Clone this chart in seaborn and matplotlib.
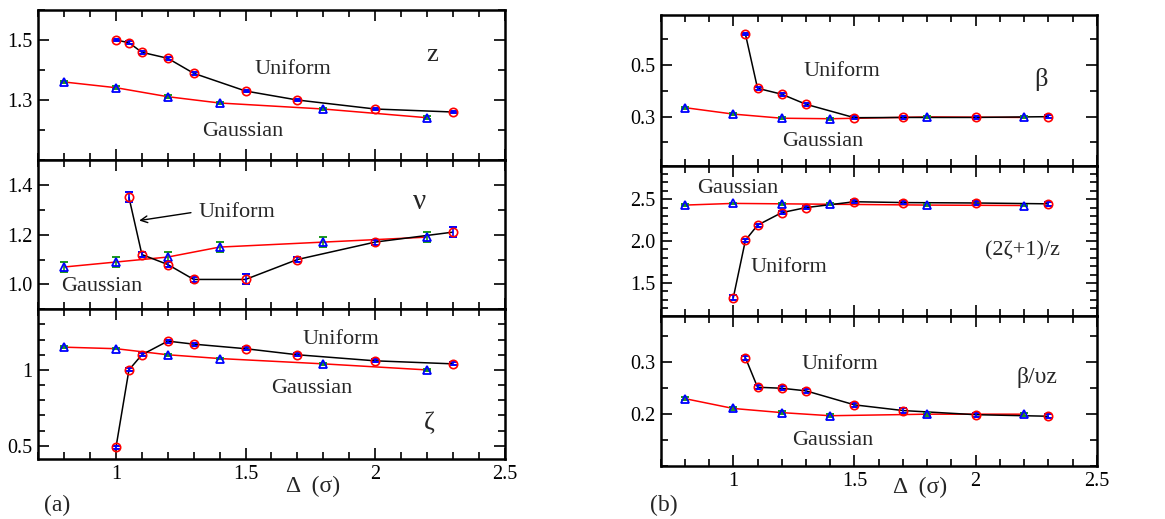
import matplotlib
matplotlib.use("Agg")
import matplotlib.pyplot as plt
import seaborn as sns
import numpy as np
from matplotlib.ticker import MultipleLocator, FixedLocator, FixedFormatter

# ---- data -------------------------------------------------------------
x_uni = [1.0, 1.05, 1.1, 1.2, 1.3, 1.5, 1.7, 2.0, 2.3]
x_uni_nu = [1.05, 1.1, 1.2, 1.3, 1.5, 1.7, 2.0, 2.3]
x_gau = [0.8, 1.0, 1.2, 1.4, 1.8, 2.2]

# dynamic exponent z
z_uni = [1.500, 1.491, 1.459, 1.439, 1.389, 1.330, 1.300, 1.270, 1.260]
z_uni_err = [0.005] * 9
z_gau = [1.360, 1.341, 1.311, 1.290, 1.270, 1.241]
z_gau_err = [0.005] * 6

# correlation exponent nu
nu_uni = [1.35, 1.12, 1.08, 1.02, 1.02, 1.10, 1.17, 1.21]
nu_uni_err = [0.02, 0.01, 0.01, 0.01, 0.02, 0.01, 0.01, 0.02]
nu_gau = [1.07, 1.09, 1.11, 1.15, 1.17, 1.19]
nu_gau_err = [0.02, 0.02, 0.02, 0.02, 0.02, 0.02]

# roughness exponent zeta
zeta_uni = [0.49, 1.00, 1.10, 1.19, 1.17, 1.14, 1.10, 1.06, 1.04]
zeta_uni_err = [0.01] * 9
zeta_gau = [1.15, 1.14, 1.10, 1.075, 1.04, 1.00]
zeta_gau_err = [0.005] * 6

# velocity exponent beta
beta_uni = [0.62, 0.41, 0.387, 0.348, 0.296, 0.297, 0.297, 0.300]
beta_uni_err = [0.005] * 8
beta_gau = [0.335, 0.310, 0.294, 0.292, 0.299, 0.297]
beta_gau_err = [0.004] * 6
x_uni_b = [1.05, 1.1, 1.2, 1.3, 1.5, 1.7, 2.0, 2.3]

# scaling relation (2 zeta + 1)/z
sr_uni = [1.325, 2.01, 2.19, 2.34, 2.40, 2.47, 2.46, 2.455, 2.445]
sr_uni_err = [0.03, 0.02, 0.02, 0.02, 0.02, 0.02, 0.02, 0.02, 0.02]
sr_gau = [2.43, 2.45, 2.445, 2.44, 2.43, 2.425]
sr_gau_err = [0.01] * 6

# scaling relation beta/(nu z)
bnz_uni = [0.309, 0.252, 0.250, 0.245, 0.218, 0.207, 0.199, 0.196]
bnz_uni_err = [0.004] * 8
bnz_gau = [0.230, 0.211, 0.203, 0.197, 0.200, 0.200]
bnz_gau_err = [0.003] * 6

xtick_vals = [1, 1.5, 2, 2.5]
xtick_labels = ["1", "1.5", "2", "2.5"]

# ---- style -------------------------------------------------------------
sns.set_theme(style="ticks")
plt.rcParams["font.family"] = ["Liberation Serif", "DejaVu Serif"]
plt.rcParams["mathtext.fontset"] = "stix"

fig = plt.figure(figsize=(11.65, 5.19), dpi=100)

W, H = 1165.0, 519.0


def make_ax(left, right, top, bottom):
    return fig.add_axes([left / W, 1 - bottom / H, (right - left) / W, (bottom - top) / H])


def style_ax(ax, ylim, yticks, ylabels, yminor, show_x):
    ax.set_xlim(0.7, 2.5)
    ax.set_ylim(*ylim)
    ax.xaxis.set_major_locator(FixedLocator(xtick_vals))
    ax.xaxis.set_minor_locator(MultipleLocator(0.1))
    ax.yaxis.set_major_locator(FixedLocator(yticks))
    ax.yaxis.set_major_formatter(FixedFormatter(ylabels))
    ax.yaxis.set_minor_locator(MultipleLocator(yminor))
    if show_x:
        ax.set_xticklabels(xtick_labels)
    else:
        ax.set_xticklabels([])
    ax.tick_params(which="both", direction="in", top=True, right=True,
                   colors="black", width=1.2, labelsize=14.5, pad=4)
    ax.tick_params(which="major", length=8)
    ax.tick_params(which="minor", length=5)
    for s in ax.spines.values():
        s.set_linewidth(1.8)
        s.set_color("black")
    ax.set_xlabel("")
    ax.set_ylabel("")


def draw(ax, xu, yu, eu, xg, yg, eg):
    sns.lineplot(x=xg, y=yg, ax=ax, color="red", lw=1.1, sort=False, estimator=None)
    sns.lineplot(x=xu, y=yu, ax=ax, color="black", lw=1.1, sort=False, estimator=None)
    ax.errorbar(xg, yg, yerr=eg, fmt="none", ecolor="#1a9a1a", elinewidth=1.2, capsize=3, capthick=1.4, zorder=3)
    ax.errorbar(xu, yu, yerr=eu, fmt="none", ecolor="blue", elinewidth=1.2, capsize=3, capthick=1.4, zorder=3)
    ax.plot(xg, yg, "^", ms=5.5, mfc="none", mec="blue", mew=1.3, ls="none", zorder=4)
    ax.plot(xu, yu, "o", ms=6, mfc="none", mec="red", mew=1.2, ls="none", zorder=4)


TXT = 16

# ---- left panel (a) ---------------------------------------------------
L0, L1 = 38.3, 504.5
ax1 = make_ax(L0, L1, 10, 160)
draw(ax1, x_uni, z_uni, z_uni_err, x_gau, z_gau, z_gau_err)
style_ax(ax1, (1.1, 1.6), [1.3, 1.5], ["1.3", "1.5"], 0.1, False)
ax1.text(1.683, 1.40, "Uniform", ha="center", va="center", fontsize=TXT)
ax1.text(1.49, 1.195, "Gaussian", ha="center", va="center", fontsize=TXT)
ax1.text(2.22, 1.45, "z", ha="center", va="center", fontsize=TXT + 3)

ax2 = make_ax(L0, L1, 160, 309.3)
draw(ax2, x_uni_nu, nu_uni, nu_uni_err, x_gau, nu_gau, nu_gau_err)
style_ax(ax2, (0.9, 1.5), [1.0, 1.2, 1.4], ["1.0", "1.2", "1.4"], 0.1, False)
ax2.annotate("", xy=(1.079, 1.255), xytext=(1.30, 1.29),
             arrowprops=dict(arrowstyle="->", lw=1.0, color="black"))
ax2.text(1.32, 1.29, "Uniform", ha="left", va="center", fontsize=TXT)
ax2.text(0.79, 0.99, "Gaussian", ha="left", va="center", fontsize=TXT)
ax2.text(2.17, 1.33, "ν", ha="center", va="center", fontsize=TXT + 5)

ax3 = make_ax(L0, L1, 309.3, 459.3)
draw(ax3, x_uni, zeta_uni, zeta_uni_err, x_gau, zeta_gau, zeta_gau_err)
style_ax(ax3, (0.41, 1.4), [0.5, 1.0], ["0.5", "1"], 0.1, True)
ax3.text(1.72, 1.20, "Uniform", ha="left", va="center", fontsize=TXT)
ax3.text(1.60, 0.88, "Gaussian", ha="left", va="center", fontsize=TXT)
ax3.text(2.21, 0.65, "ζ", ha="center", va="center", fontsize=TXT + 3)

fig.text(313 / W, 1 - 486 / H, "Δ  (σ)", ha="center", va="center", fontsize=TXT + 1)
fig.text(57 / W, 1 - 505 / H, "(a)", ha="center", va="center", fontsize=TXT + 1)

# ---- right panel (b) --------------------------------------------------
R0, R1 = 660.6, 1096.8
ax4 = make_ax(R0, R1, 15, 165.7)
draw(ax4, x_uni_b, beta_uni, beta_uni_err, x_gau, beta_gau, beta_gau_err)
style_ax(ax4, (0.11, 0.694), [0.3, 0.5], ["0.3", "0.5"], 0.1, False)
ax4.text(1.447, 0.474, "Uniform", ha="center", va="center", fontsize=TXT)
ax4.text(1.37, 0.205, "Gaussian", ha="center", va="center", fontsize=TXT)
ax4.text(2.27, 0.445, "β", ha="center", va="center", fontsize=TXT + 3)

ax5 = make_ax(R0, R1, 165.7, 315.7)
draw(ax5, x_uni, sr_uni, sr_uni_err, x_gau, sr_gau, sr_gau_err)
style_ax(ax5, (1.11, 2.9), [1.5, 2.0, 2.5], ["1.5", "2.0", "2.5"], 0.1, False)
ax5.text(0.85, 2.63, "Gaussian", ha="left", va="center", fontsize=TXT)
ax5.text(1.07, 1.69, "Uniform", ha="left", va="center", fontsize=TXT)
ax5.text(2.04, 1.88, "(2ζ+1)/z", ha="left", va="center", fontsize=TXT)

ax6 = make_ax(R0, R1, 315.7, 466)
draw(ax6, x_uni_b, bnz_uni, bnz_uni_err, x_gau, bnz_gau, bnz_gau_err)
style_ax(ax6, (0.1, 0.39), [0.2, 0.3], ["0.2", "0.3"], 0.05, True)
ax6.text(1.44, 0.295, "Uniform", ha="center", va="center", fontsize=TXT)
ax6.text(1.41, 0.15, "Gaussian", ha="center", va="center", fontsize=TXT)
ax6.text(2.17, 0.27, "β/υz", ha="left", va="center", fontsize=TXT + 1)

fig.text(920 / W, 1 - 487 / H, "Δ  (σ)", ha="center", va="center", fontsize=TXT + 1)
fig.text(664 / W, 1 - 505 / H, "(b)", ha="center", va="center", fontsize=TXT + 1)

fig.savefig("out.png", dpi=100, facecolor="white")
